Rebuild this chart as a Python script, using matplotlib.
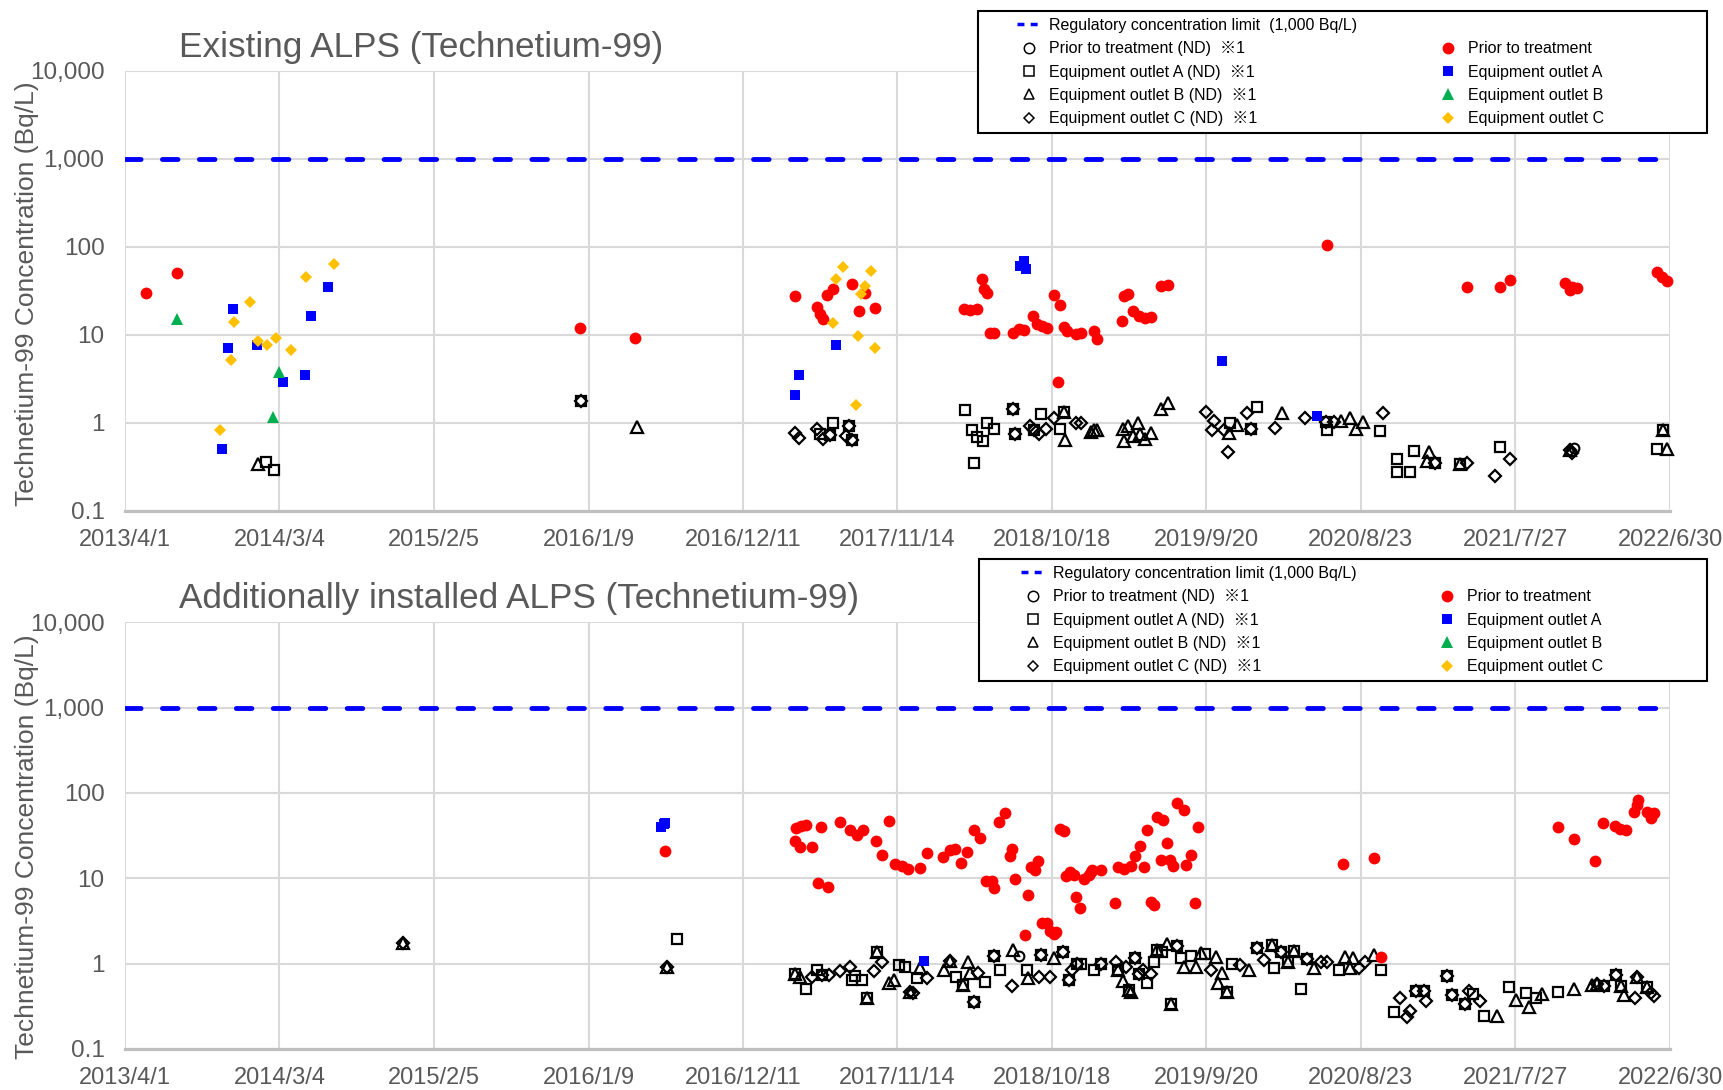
import matplotlib
matplotlib.use("Agg")
import matplotlib.pyplot as plt
from matplotlib.lines import Line2D
from matplotlib.patches import Rectangle
from matplotlib.ticker import NullLocator
import pandas as pd

# x values are days after 2013/4/1
START = pd.Timestamp("2013-04-01")
END = pd.Timestamp("2022-06-30")
tick_labels = ["2013/4/1", "2014/3/4", "2015/2/5", "2016/1/9", "2016/12/11",
               "2017/11/14", "2018/10/18", "2019/9/20", "2020/8/23",
               "2021/7/27", "2022/6/30"]
y_ticks = [0.1, 1, 10, 100, 1000, 10000]
y_tick_labels = ["0.1", "1", "10", "100", "1,000", "10,000"]
limit = 1000

# ---------------- Existing ALPS ----------------
top_pre_days = [45, 114, 994, 1115, 1463, 1512, 1518, 1525, 1533, 1546, 1589, 1603,
                1618, 1638, 1833, 1847, 1862, 1872, 1877, 1884, 1891, 1900, 1941,
                1953, 1965, 1984, 1993, 2004, 2015, 2030, 2039, 2044, 2052, 2059,
                2079, 2089, 2118, 2125, 2178, 2183, 2191, 2202, 2216, 2229, 2242,
                2264, 2280, 2627, 2933, 3006, 3026, 3148, 3159, 3163, 3174, 3349,
                3360, 3371]
top_pre_vals = [29.7, 49.6, 11.9, 9.1, 27.7, 20.8, 17.0, 14.9, 28.2, 32.7, 37.3, 18.7,
                30.0, 20.1, 19.6, 19.0, 19.4, 42.5, 32.7, 30.0, 10.5, 10.4, 10.4,
                11.5, 11.3, 16.3, 13.4, 12.5, 11.8, 28.2, 2.9, 21.7, 12.3, 11.0,
                10.2, 10.4, 11.1, 8.85, 14.4, 27.5, 29.0, 18.4, 16.3, 15.3, 15.7,
                36.0, 37.0, 104, 34.5, 34.5, 41.8, 38.9, 32.2, 35.0, 33.5, 52.2,
                45.6, 41.1]
top_a_days = [236, 224, 287, 211, 344, 392, 405, 443, 1463, 1472, 1553, 1955, 1964,
              1968, 2398, 2605]
top_a_vals = [19.5, 7.0, 7.6, 0.50, 2.9, 3.46, 16.3, 35.2, 2.06, 3.45, 7.6, 60.3, 69.3,
              55.3, 4.98, 1.19]
top_b_days = [112, 336, 322]
top_b_vals = [15.0, 3.8, 1.15]
top_c_days = [206, 231, 237, 273, 289, 310, 329, 363, 396, 456, 1547, 1554, 1568,
              1598, 1602, 1608, 1617, 1630, 1638]
top_c_vals = [0.82, 5.1, 14.0, 23.5, 8.4, 7.6, 9.1, 6.7, 44.9, 63.8, 13.5, 42.5, 59.3,
              1.6, 9.7, 29.0, 35.7, 52.4, 7.1]
top_nd_pre_days = [3166]
top_nd_pre_vals = [0.51]
top_nd_a_days = [308, 325, 997, 1519, 1540, 1546, 1581, 1589, 1835, 1850, 1856, 1862,
                 1875, 1884, 1898, 1941, 1945, 1986, 2002, 2043, 2052, 2416, 2475,
                 2460, 2624, 2627, 2742, 2779, 2780, 2808, 2817, 2863, 2918, 3006,
                 3349, 3362]
top_nd_a_vals = [0.355, 0.29, 1.76, 0.74, 0.72, 1.0, 0.92, 0.635, 1.39, 0.825, 0.351,
                 0.69, 0.625, 1.0, 0.84, 1.43, 0.743, 0.83, 1.27, 0.84, 1.33, 1.0,
                 1.49, 0.85, 1.03, 0.82, 0.81, 0.277, 0.39, 0.277, 0.48, 0.345,
                 0.34, 0.524, 0.497, 0.825]
top_nd_b_days = [290, 1118, 2052, 2055, 2110, 2118, 2125, 2180, 2183, 2191, 2202,
                 2214, 2218, 2229, 2242, 2265, 2280, 2413, 2431, 2529, 2657, 2678,
                 2691, 2706, 2849, 2845, 2918, 3159, 3362, 3371]
top_nd_b_vals = [0.34, 0.90, 1.33, 0.635, 0.79, 0.825, 0.825, 0.84, 0.625, 0.92, 0.705,
                 0.98, 0.74, 0.66, 0.77, 1.42, 1.66, 0.76, 0.94, 1.3, 1.05, 1.12,
                 0.84, 1.03, 0.47, 0.367, 0.34, 0.49, 0.825, 0.497]
top_nd_c_days = [997, 1463, 1473, 1512, 1525, 1540, 1576, 1581, 1589, 1941, 1945,
                 1977, 1986, 1998, 2012, 2031, 2079, 2089, 2362, 2376, 2380, 2402,
                 2411, 2451, 2460, 2513, 2579, 2624, 2642, 2750, 2863, 2933, 2995,
                 3026, 3159, 3163]
top_nd_c_vals = [1.76, 0.76, 0.675, 0.85, 0.66, 0.72, 0.71, 0.92, 0.635, 1.43, 0.743,
                 0.92, 0.83, 0.74, 0.84, 1.12, 1.0, 1.0, 1.33, 0.825, 1.05, 0.83,
                 0.468, 1.28, 0.85, 0.88, 1.12, 1.03, 1.03, 1.28, 0.345, 0.345,
                 0.248, 0.383, 0.49, 0.45]

# ---------------- Additionally installed ALPS ----------------
add_pre_days = [1180, 1467, 1477, 1487, 1465, 1474, 1501, 1521, 1514, 1536, 1563,
                1584, 1600, 1613, 1640, 1655, 1669, 1683, 1698, 1710, 1738, 1753,
                1788, 1802, 1813, 1826, 1840, 1856, 1868, 1882, 1895, 1900, 1910,
                1924, 1933, 1939, 1945, 1967, 1973, 1979, 1988, 1995, 2004, 2014,
                2022, 2030, 2035, 2043, 2052, 2057, 2066, 2073, 2079, 2086, 2095,
                2107, 2110, 2114, 2133, 2164, 2169, 2183, 2198, 2207, 2218, 2227,
                2234, 2242, 2249, 2255, 2269, 2264, 2277, 2284, 2290, 2300, 2314,
                2318, 2329, 2338, 2345, 2662, 2729, 2746, 3131, 3167, 3212, 3230,
                3256, 3267, 3280, 3298, 3304, 3307, 3326, 3335, 3342]
add_pre_vals = [21.1, 38.8, 40.6, 42.5, 27.1, 23.2, 23.1, 39.9, 8.8, 7.8, 46.1,
                36.5, 32.4, 36.5, 27.1, 18.6, 46.4, 14.7, 13.8, 12.9, 13.3, 19.8,
                17.6, 21.2, 22.0, 15.3, 20.1, 37.1, 29.6, 9.2, 9.2, 7.66, 46.1,
                58.2, 18.4, 22.2, 9.8, 2.17, 6.35, 13.5, 12.6, 15.8, 3.03, 3.03,
                2.38, 2.2, 2.33, 37.8, 35.4, 10.7, 12.0, 11.0, 6.1, 4.47, 9.8,
                11.0, 12.0, 12.4, 12.4, 5.1, 13.5, 13.0, 14.0, 18.4, 24.1, 13.5,
                36.5, 5.2, 4.88, 52.3, 48.8, 16.2, 25.9, 16.5, 13.8, 76.3, 63.7,
                14.4, 18.9, 5.1, 39.5, 14.5, 17.4, 1.19, 40.2, 29.1, 15.8, 44.4,
                41.3, 37.8, 37.2, 59.8, 71.6, 82.0, 59.4, 50.9, 58.0]
add_a_days = [1172, 1177, 1180, 1745]
add_a_vals = [40, 43, 45, 1.06]
add_nd_pre_days = [1953]
add_nd_pre_vals = [1.23]
add_nd_a_days = [1205, 1465, 1487, 1512, 1523, 1589, 1596, 1611, 1622, 1643, 1691,
                 1705, 1731, 1815, 1831, 1855, 1880, 1898, 1913, 1971, 2002, 2050,
                 2062, 2081, 2089, 2118, 2133, 2170, 2194, 2207, 2216, 2234, 2248,
                 2255, 2267, 2285, 2300, 2307, 2329, 2360, 2409, 2420, 2475, 2507,
                 2512, 2526, 2542, 2555, 2571, 2584, 2653, 2745, 2773, 2822, 2838,
                 2890, 2900, 2929, 2946, 2971, 3025, 3061, 3084, 3131, 3232, 3259,
                 3269, 3327]
add_nd_a_vals = [1.96, 0.76, 0.51, 0.84, 0.74, 0.64, 0.72, 0.65, 0.40, 1.35, 0.96,
                 0.90, 0.67, 0.70, 0.56, 0.35, 0.61, 1.23, 0.84, 0.84, 1.26, 1.35,
                 0.64, 1.0, 1.0, 0.84, 0.99, 0.83, 0.49, 1.15, 0.76, 0.59, 1.03,
                 1.45, 1.38, 0.34, 1.61, 1.15, 1.23, 1.3, 0.47, 1.0, 1.51, 1.66,
                 0.88, 1.38, 1.03, 1.42, 0.50, 1.12, 0.83, 0.83, 0.273, 0.48, 0.48,
                 0.716, 0.43, 0.34, 0.44, 0.243, 0.527, 0.456, 0.392, 0.465, 0.547,
                 0.736, 0.55, 0.527]
add_nd_b_days = [606, 1185, 1465, 1476, 1622, 1643, 1669, 1681, 1716, 1738, 1789,
                 1802, 1831, 1842, 1847, 1941, 1973, 2030, 2170, 2180, 2194, 2198,
                 2255, 2278, 2285, 2314, 2340, 2351, 2384, 2389, 2398, 2409, 2456,
                 2507, 2542, 2555, 2598, 2667, 2678, 2684, 2729, 2998, 3041, 3068,
                 3097, 3167, 3207, 3218, 3269, 3276, 3305, 3327]
add_nd_b_vals = [1.72, 0.92, 0.76, 0.70, 0.40, 1.35, 0.60, 0.64, 0.46, 0.88, 0.84,
                 1.08, 0.56, 1.03, 0.77, 1.45, 0.67, 1.15, 0.83, 0.63, 0.49, 0.47,
                 1.45, 1.70, 0.34, 0.92, 0.90, 1.32, 1.21, 0.59, 0.78, 0.47, 0.84,
                 1.66, 1.03, 1.42, 0.88, 1.19, 0.88, 1.15, 1.26, 0.243, 0.374, 0.313,
                 0.44, 0.50, 0.56, 0.577, 0.55, 0.43, 0.69, 0.527]
add_nd_c_days = [606, 1185, 1501, 1523, 1538, 1562, 1584, 1636, 1654, 1716, 1722,
                 1753, 1802, 1855, 1865, 1898, 1939, 1997, 2002, 2022, 2050, 2062,
                 2070, 2081, 2133, 2165, 2187, 2207, 2216, 2224, 2242, 2300, 2373,
                 2437, 2475, 2489, 2526, 2584, 2613, 2627, 2697, 2711, 2786, 2801,
                 2808, 2822, 2838, 2843, 2890, 2900, 2929, 2938, 2962, 3218, 3232,
                 3259, 3300, 3305, 3335, 3342]
add_nd_c_vals = [1.72, 0.92, 0.70, 0.74, 0.74, 0.81, 0.92, 0.81, 1.05, 0.46, 0.45,
                 0.67, 1.08, 0.35, 0.77, 1.23, 0.55, 0.70, 1.26, 0.70, 1.35, 0.64,
                 0.84, 1.0, 0.99, 1.05, 0.92, 1.15, 0.76, 0.84, 0.76, 1.61, 0.84,
                 0.96, 1.51, 1.10, 1.38, 1.12, 1.05, 1.03, 0.88, 1.03, 0.392, 0.238,
                 0.28, 0.48, 0.48, 0.368, 0.716, 0.43, 0.34, 0.48, 0.368, 0.577,
                 0.547, 0.736, 0.39, 0.69, 0.45, 0.417]

RED, BLUE, GREEN, GOLD = "#ff0000", "#0000ff", "#00b050", "#ffc000"
GRAY = "#595959"
FONT = ["Liberation Sans", "Noto Sans CJK JP", "DejaVu Sans"]
plt.rcParams["font.family"] = FONT

W, H = 1724, 1090


def to_dates(days):
    return START + pd.to_timedelta(days, unit="D")


def fx(px):
    return px / W


def fy(px):
    return 1 - px / H


def draw_panel(ax, series):
    ax.set_yscale("log")
    ax.set_ylim(0.1, 10000)
    ax.set_xlim(START, END)
    ax.set_yticks(y_ticks)
    ax.set_yticklabels(y_tick_labels)
    ax.yaxis.set_minor_locator(NullLocator())
    xt = pd.to_datetime(tick_labels, format="%Y/%m/%d")
    ax.set_xticks(xt)
    ax.set_xticklabels(tick_labels)
    ax.tick_params(axis="x", length=0, pad=13, labelsize=17, labelcolor=GRAY)
    ax.tick_params(axis="y", length=0, pad=15, labelsize=17.5, labelcolor=GRAY)
    ax.grid(True, color="#d9d9d9", lw=1.5, zorder=0)
    ax.set_axisbelow(True)
    for s in ["top", "right", "left"]:
        ax.spines[s].set_visible(False)
    ax.spines["bottom"].set_color("#bfbfbf")
    ax.spines["bottom"].set_linewidth(2.3)
    ax.axhline(limit, color=BLUE, lw=3.5, dashes=(3.2, 4.4),
               dash_capstyle="round", zorder=2)
    for days, vals, style in series:
        ax.plot(to_dates(days), vals, ls="none", clip_on=False, zorder=3, **style)


nd_o = dict(marker="o", ms=7, mfc="none", mec="black", mew=1.5)
nd_s = dict(marker="s", ms=7, mfc="none", mec="black", mew=1.6)
nd_t = dict(marker="^", ms=8, mfc="none", mec="black", mew=1.6)
nd_d = dict(marker="D", ms=5.8, mfc="none", mec="black", mew=1.6)
f_o = dict(marker="o", ms=8.5, color=RED, mew=0)
f_s = dict(marker="s", ms=7.8, color=BLUE, mew=0)
f_t = dict(marker="^", ms=9, color=GREEN, mew=0)
f_d = dict(marker="D", ms=6.3, color=GOLD, mew=0)

fig = plt.figure(figsize=(W / 100, H / 100), dpi=100)
ax1 = fig.add_axes([fx(125.3), fy(510.7), fx(1670.1) - fx(125.3), 440 / H])
ax2 = fig.add_axes([fx(125.3), fy(1048.9), fx(1670.1) - fx(125.3), 426.6 / H])

draw_panel(ax1, [
    (top_nd_pre_days, top_nd_pre_vals, nd_o),
    (top_nd_a_days, top_nd_a_vals, nd_s),
    (top_nd_b_days, top_nd_b_vals, nd_t),
    (top_nd_c_days, top_nd_c_vals, nd_d),
    (top_pre_days, top_pre_vals, f_o),
    (top_a_days, top_a_vals, f_s),
    (top_b_days, top_b_vals, f_t),
    (top_c_days, top_c_vals, f_d),
])
draw_panel(ax2, [
    (add_nd_pre_days, add_nd_pre_vals, nd_o),
    (add_nd_a_days, add_nd_a_vals, nd_s),
    (add_nd_b_days, add_nd_b_vals, nd_t),
    (add_nd_c_days, add_nd_c_vals, nd_d),
    (add_pre_days, add_pre_vals, f_o),
    (add_a_days, add_a_vals, f_s),
])

# titles and y labels
fig.text(fx(179), fy(57), "Existing ALPS (Technetium-99)", fontsize=25.3,
         color=GRAY, va="baseline")
fig.text(fx(179), fy(608), "Additionally installed ALPS (Technetium-99)",
         fontsize=25.3, color=GRAY, va="baseline")
ylab = "Technetium-99 Concentration (Bq/L)"
fig.text(fx(27), fy(294), ylab, rotation=90, ha="center", va="center",
         fontsize=19, color=GRAY)
fig.text(fx(27), fy(847), ylab, rotation=90, ha="center", va="center",
         fontsize=19, color=GRAY)


def add_legend(box, anchor, limit_label):
    x0, y0, x1, y1 = box
    fig.patches.append(Rectangle((fx(x0), fy(y1)), fx(x1) - fx(x0), (y1 - y0) / H,
                                 transform=fig.transFigure, facecolor="white",
                                 edgecolor="black", lw=1.5, zorder=9))
    lg_o = dict(nd_o, mew=1.1, ms=7.5)
    lg_s = dict(nd_s, mew=1.1, ms=7)
    lg_t = dict(nd_t, mew=1.1, ms=7.5)
    lg_d = dict(nd_d, mew=1.1, ms=5.5)
    handles = [
        Line2D([], [], color=BLUE, lw=2.5, dashes=(2, 1.8)),
        Line2D([], [], ls="none", **lg_o),
        Line2D([], [], ls="none", **lg_s),
        Line2D([], [], ls="none", **lg_t),
        Line2D([], [], ls="none", **lg_d),
        Line2D([], [], ls="none"),
        Line2D([], [], ls="none", **f_o),
        Line2D([], [], ls="none", **f_s),
        Line2D([], [], ls="none", **f_t),
        Line2D([], [], ls="none", **f_d),
    ]
    labels = [limit_label,
              "Prior to treatment (ND)  ※1",
              "Equipment outlet A (ND)  ※1",
              "Equipment outlet B (ND)  ※1",
              "Equipment outlet C (ND)  ※1",
              "",
              "Prior to treatment",
              "Equipment outlet A",
              "Equipment outlet B",
              "Equipment outlet C"]
    leg = fig.legend(handles, labels, ncol=2, loc="upper left",
                     bbox_to_anchor=(fx(anchor[0]), fy(anchor[1])),
                     frameon=False, fontsize=11.5, borderaxespad=0,
                     borderpad=0.4, handlelength=1.4, handletextpad=0.56,
                     labelspacing=0.52, columnspacing=5.0)
    leg.set_zorder(10)


add_legend((978, 11, 1707, 133), (1011, 11.5), "Regulatory concentration limit  (1,000 Bq/L)")
add_legend((978.6, 558.5, 1707.5, 680.6), (1015, 559.5), "Regulatory concentration limit (1,000 Bq/L)")

fig.savefig("out.png", dpi=100)
